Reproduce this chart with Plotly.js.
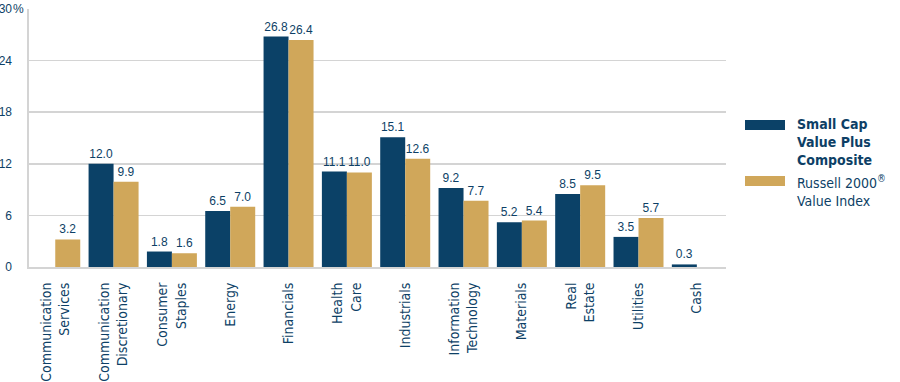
<!DOCTYPE html>
<html><head><meta charset="utf-8">
<script src="https://cdn.plot.ly/plotly-3.0.1.min.js"></script>
<style>html,body{margin:0;padding:0;background:#fff}#chart{width:900px;height:382px}</style>
</head><body><div id="chart"></div>
<script>
var categories = ["Communication<br>Services","Communication<br>Discretionary","Consumer<br>Staples","Energy","Financials","Health<br>Care","Industrials","Information<br>Technology","Materials","Real<br>Estate","Utilities","Cash"];
var composite = [null,12.0,1.8,6.5,26.8,11.1,15.1,9.2,5.2,8.5,3.5,0.3];
var russell = [3.2,9.9,1.6,7.0,26.4,11.0,12.6,7.7,5.4,9.5,5.7,null];
var yTicks = [0,6,12,18,24,30];
var yTickText = ["0","6","12","18","24","30"];
var seriesNames = ["Small Cap<br>Value Plus<br>Composite","Russell 2000<sup>®</sup><br>Value Index"];

var navy = "#0b4167", gold = "#d0a75a", txt = "#0d3f66";
var condensed = "DejaVu Sans Condensed, Liberation Sans Narrow, Arial Narrow, sans-serif";
function fmt(a){return a.map(function(v){return v==null?"":v.toFixed(1);});}
var traces = [
 {type:"bar", x:categories, y:composite, marker:{color:navy}, text:fmt(composite), textposition:"outside", cliponaxis:false,
  textfont:{family:"Liberation Sans, Arial", size:12, color:txt}, hoverinfo:"none", showlegend:false},
 {type:"bar", x:categories, y:russell, marker:{color:gold}, text:fmt(russell), textposition:"outside", cliponaxis:false,
  textfont:{family:"Liberation Sans, Arial", size:12, color:txt}, hoverinfo:"none", showlegend:false}
];
var layout = {
 width:900, height:382, margin:{l:29, r:174, t:9, b:115},
 paper_bgcolor:"#fff", plot_bgcolor:"#fff",
 barmode:"group", bargap:0.143, bargroupgap:0,
 xaxis:{type:"category", range:[-0.45,11.5], tickangle:-90, ticks:"outside", ticklen:8, tickcolor:"rgba(0,0,0,0)",
  tickfont:{family:condensed, size:14, color:txt}, showgrid:false,
  showline:true, linecolor:"#d4d4d4", linewidth:2},
 yaxis:{range:[0,30], tickvals:yTicks, ticktext:yTickText, ticks:"outside", ticklen:13, tickcolor:"rgba(0,0,0,0)",
  tickfont:{family:"Liberation Sans, Arial", size:12, color:txt}, showgrid:true, gridcolor:"#d4d4d4", gridwidth:1.6,
  zeroline:false, showline:true, linecolor:"#d4d4d4", linewidth:1.6},
 shapes:[
  {type:"rect", xref:"paper", yref:"paper", x0:(745-29)/697, x1:(785-29)/697, y0:(267-130)/258, y1:(267-120)/258, fillcolor:navy, line:{width:0}},
  {type:"rect", xref:"paper", yref:"paper", x0:(745-29)/697, x1:(785-29)/697, y0:(267-186)/258, y1:(267-176)/258, fillcolor:gold, line:{width:0}}
 ],
 annotations:[
  {xref:"paper", yref:"paper", x:(12-29)/697, y:1, xanchor:"left", yanchor:"middle", text:"%", showarrow:false, borderpad:0,
   font:{family:"Liberation Sans, Arial", size:12, color:txt}},
  {xref:"paper", yref:"paper", x:(795-29)/697, y:(267-114)/258, xanchor:"left", yanchor:"top", align:"left", text:"<b>"+seriesNames[0].split("<br>").join("</b><br><b>")+"</b>", showarrow:false,
   font:{family:condensed, size:14, color:txt}},
  {xref:"paper", yref:"paper", x:(795-29)/697, y:(267-171)/258, xanchor:"left", yanchor:"top", align:"left", text:seriesNames[1], showarrow:false,
   font:{family:condensed, size:14, color:txt}}
 ]
};
Plotly.newPlot("chart", traces, layout, {displayModeBar:false, staticPlot:true});
</script></body></html>
